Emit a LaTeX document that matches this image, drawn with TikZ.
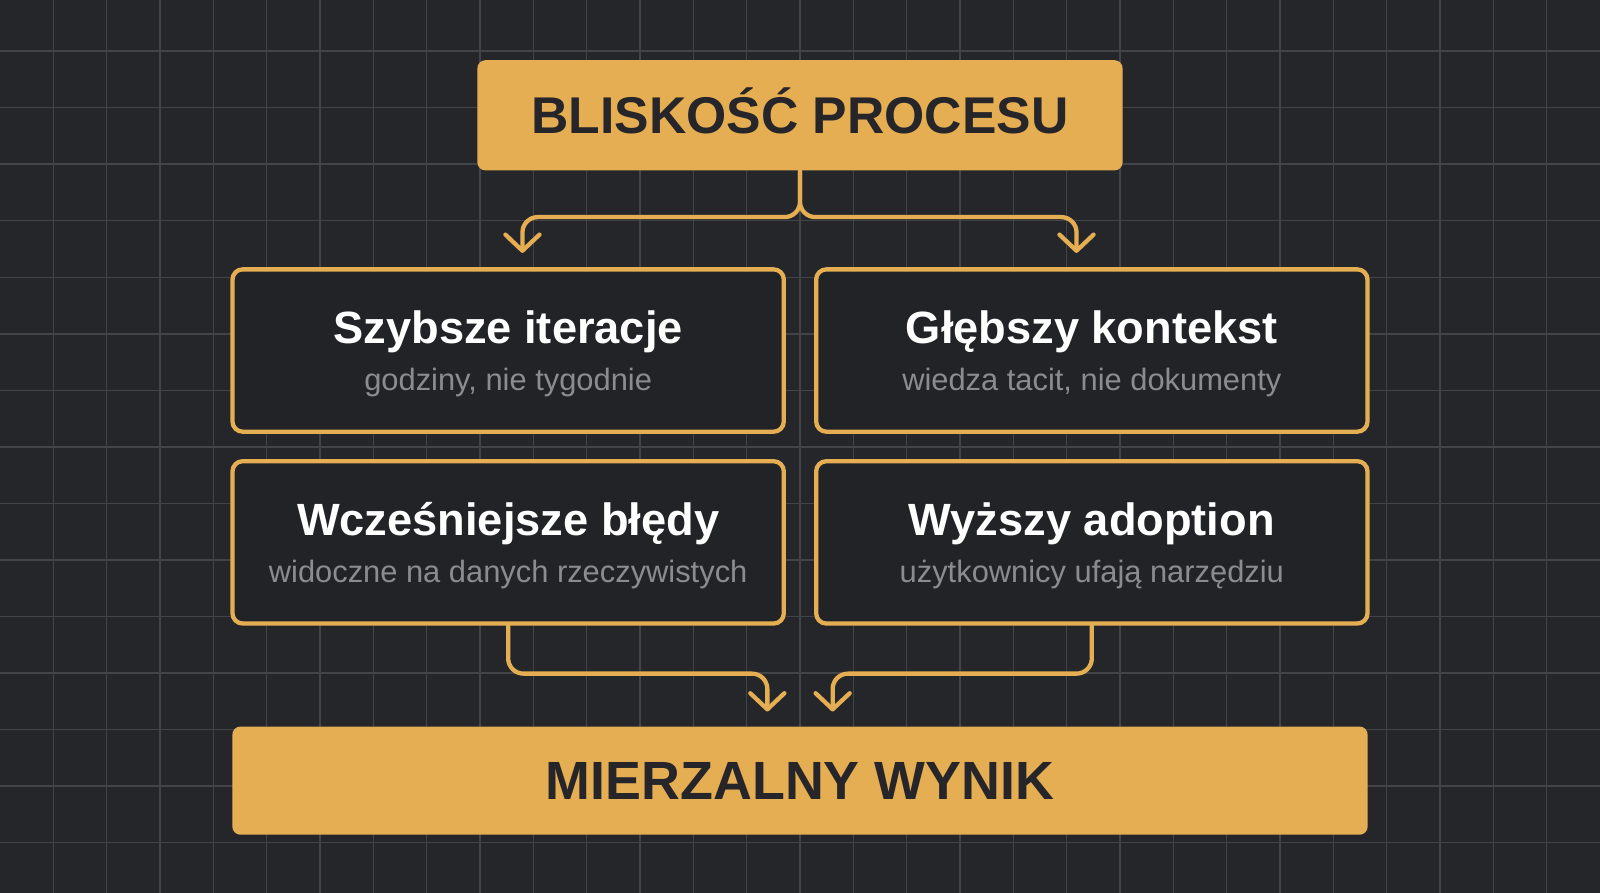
\documentclass[tikz,border=0pt]{standalone}
\usepackage{fontspec}
\setmainfont{Liberation Sans}
\usetikzlibrary{positioning, calc, arrows.meta}
\definecolor{bg}{HTML}{25262A}
\definecolor{gridc}{HTML}{43444A}
\definecolor{gold}{HTML}{E5AE52}
\definecolor{card}{HTML}{222327}
\definecolor{subtxt}{HTML}{8C8C8E}
\definecolor{darktxt}{HTML}{26262A}
\newcommand{\cardhead}[1]{{\fontsize{12.6}{15}\selectfont\bfseries\color{white}\rule{0pt}{11.2pt}#1}}
\newcommand{\cardsub}[1]{{\fontsize{8.6}{10}\selectfont\color{subtxt}\rule[-2pt]{0pt}{2pt}#1}}

\begin{document}
\begin{tikzpicture}[x=0.01cm, y=-0.01cm,
	headbox/.style={rectangle, rounded corners=0.08cm, fill=gold, text=darktxt,
		font=\fontsize{14.4}{17}\selectfont\bfseries, text height=10.3pt, text depth=0pt,
		minimum width=6.32cm, minimum height=1.08cm},
	cardbox/.style={rectangle, rounded corners=0.1cm, draw=gold, line width=1.2pt, fill=card,
		align=center, minimum width=5.4cm, minimum height=1.59cm},
	conn/.style={draw=gold, line width=1.2pt, rounded corners=0.15cm, line cap=round,
		-{Straight Barb[length=4.5pt, width=9.5pt, round]}}]
	
	%% Tło
	\fill[bg] (0,0) rectangle (1568,875.1);
	\useasboundingbox (0,0) rectangle (1568,875.1);
	
	%% Siatka
	\foreach \i in {1,...,29}
		\draw[gridc, line width=0.4pt] (\i*52.267,0) -- (\i*52.267,875.1);
	\foreach \j in {0,...,14}
		\draw[gridc, line width=0.4pt] (0,50.1+\j*55.4) -- (1568,50.1+\j*55.4);
	
	%% Blisko\'s\'c procesu
	\node[headbox] (blisk) at (784,113) {BLISKOŚĆ PROCESU};
	
	%% Cztery efekty
	\node[cardbox] (szyb) at (498,343.5)
		{\cardhead{Szybsze iteracje}\\[1pt]\cardsub{godziny, nie tygodnie}};
	\node[cardbox] (glebs) at (1070,343.5)
		{\cardhead{Głębszy kontekst}\\[1pt]\cardsub{wiedza tacit, nie dokumenty}};
	\node[cardbox] (wczes) at (498,531.5)
		{\cardhead{Wcześniejsze błędy}\\[1pt]\cardsub{widoczne na danych rzeczywistych}};
	\node[cardbox] (wyzs) at (1070,531.5)
		{\cardhead{Wyższy adoption}\\[1pt]\cardsub{użytkownicy ufają narzędziu}};
	
	%% Wynik
	\node[headbox, font=\fontsize{15}{18}\selectfont\bfseries, text height=10.7pt,
		minimum width=11.12cm, minimum height=1.06cm] (wynik) at (784,765) {MIERZALNY WYNIK};
	
	%% Strzałki
	\draw[conn] (blisk.south) -- ++(0,45) -| ($(szyb.north)+(14,-14)$);
	\draw[conn] (blisk.south) -- ++(0,45) -| ($(glebs.north)+(-15,-14)$);
	\draw[conn] (wczes.south) -- ++(0,47) -| ($(wynik.north)+(-32,-14)$);
	\draw[conn] (wyzs.south) -- ++(0,47) -| ($(wynik.north)+(32,-14)$);
\end{tikzpicture}
\end{document}
